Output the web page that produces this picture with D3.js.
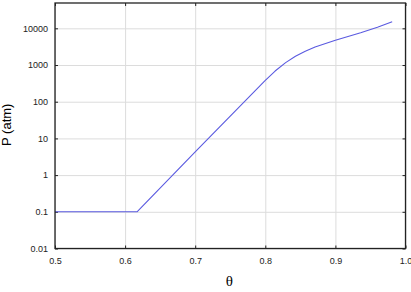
<html><head>
<script src="https://d3js.org/d3.v7.min.js"></script>
<style>
  body { margin: 0; background: #fff; }
  svg text { font-family: "Liberation Sans", Arial, sans-serif; }
  .grid line { stroke: #dcdcdc; stroke-width: 1; }
  .grid .domain { stroke: none; }
  .axis .domain { stroke: none; }
  .axis line { stroke: #222; }
  .axis text { font-size: 9px; fill: #222; }
</style>
</head>
<body>
<svg id="chart" width="411" height="292"></svg>
<script>
// data
let theta = [0.5, 0.617, 0.7, 0.8, 0.814, 0.829, 0.843, 0.857, 0.871, 0.886, 0.9, 0.936, 0.96, 0.981];
let pressure = [0.1, 0.1, 4.3, 383, 685, 1160, 1730, 2370, 3100, 3840, 4720, 7590, 10700, 15100];
let xTicks = [0.5, 0.6, 0.7, 0.8, 0.9, 1.0];
let yTicks = [0.01, 0.1, 1, 10, 100, 1000, 10000];

let svg = d3.select("svg#chart");
let margin = { top: 3, right: 5.5, bottom: 43.5, left: 55 };
let width = 411 - margin.left - margin.right;
let height = 292 - margin.top - margin.bottom;

let xScale = d3.scaleLinear().domain([0.5, 1.0]).range([0, width]);
let yScale = d3.scaleLog().domain([0.01, 49000]).range([height, 0]);

let g = svg.append("g").attr("transform", "translate(" + margin.left + "," + margin.top + ")");

// gridlines
g.append("g").attr("class", "grid")
  .attr("transform", "translate(0," + height + ")")
  .call(d3.axisBottom(xScale).tickValues(xTicks).tickSize(-height).tickFormat(""));
g.append("g").attr("class", "grid")
  .call(d3.axisLeft(yScale).tickValues(yTicks).tickSize(-width).tickFormat(""));

// axes with inward ticks
g.append("g").attr("class", "axis")
  .attr("transform", "translate(0," + height + ")")
  .call(d3.axisBottom(xScale).tickValues(xTicks).tickSizeInner(-3).tickSizeOuter(0).tickPadding(9)
    .tickFormat(d => d == 1 ? "1.0" : d3.format(".1f")(d)));
g.append("g").attr("class", "axis")
  .call(d3.axisTop(xScale).tickValues(xTicks).tickSizeInner(-3).tickSizeOuter(0).tickFormat(""));
g.append("g").attr("class", "axis")
  .call(d3.axisLeft(yScale).tickValues(yTicks).tickSizeInner(-3).tickSizeOuter(0).tickPadding(7)
    .tickFormat(d => d < 1 ? String(d) : d3.format("d")(d)));
g.append("g").attr("class", "axis")
  .attr("transform", "translate(" + width + ",0)")
  .call(d3.axisRight(yScale).tickValues(yTicks).tickSizeInner(-3).tickSizeOuter(0).tickFormat(""));

// the curve
let line = d3.line()
  .x((d, i) => xScale(theta[i]))
  .y(d => yScale(d));

g.append("path")
  .datum(pressure)
  .attr("d", line)
  .attr("fill", "none")
  .attr("stroke", "#5a5ae0")
  .attr("stroke-width", 1.1)
  .attr("stroke-linejoin", "round");

// frame
g.append("rect")
  .attr("width", width).attr("height", height)
  .attr("fill", "none").attr("stroke", "#222").attr("stroke-width", 1.3);

// labels
svg.append("text")
  .attr("transform", "translate(11," + (margin.top + height / 2 - 1) + ") rotate(-90)")
  .attr("text-anchor", "middle")
  .style("font-size", "13px")
  .text("P (atm)");

svg.append("text")
  .attr("x", margin.left + width / 2 - 1)
  .attr("y", 286)
  .attr("text-anchor", "middle")
  .style("font-family", "'Liberation Serif', 'Times New Roman', serif")
  .style("font-size", "15px")
  .text("θ");
</script>
</body>
</html>
